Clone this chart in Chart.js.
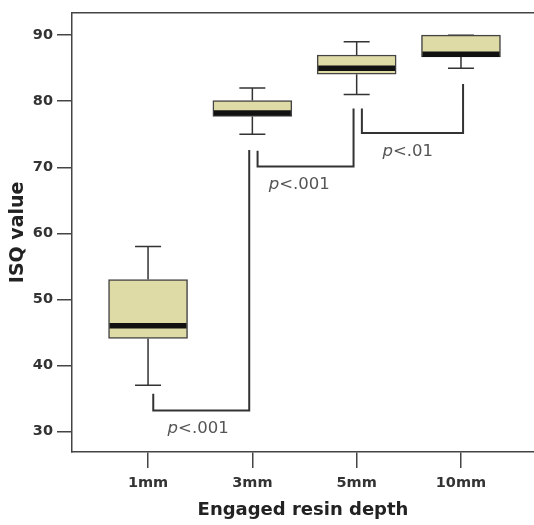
<!DOCTYPE html>
<html>
<head>
<meta charset="utf-8">
<script src="https://cdn.jsdelivr.net/npm/chart.js@4"></script>
<style>
  html, body { margin: 0; padding: 0; background: #fff; }
  #wrap { width: 534px; height: 525px; }
</style>
</head>
<body>
<div id="wrap"><canvas id="boxChart"></canvas></div>
<script>
const categories = ["1mm", "3mm", "5mm", "10mm"];
const whiskerLow = [37, 75, 81, 85];
const q1 = [44.1, 77.7, 84.1, 86.7];
const median = [46, 78.2, 85, 87.1];
const q3 = [53, 80.1, 87, 90];
const whiskerHigh = [58, 82, 89, 90];
const yTicks = [30, 40, 50, 60, 70, 80, 90];

// significance brackets (x in category index units, y in ISQ units)
const bracketFrom = [0.05, 1.05, 2.05];
const bracketTo = [0.97, 1.97, 3.02];
const bracketStartY = [35.7, 72.5, 78.9];
const bracketBaseY = [33.2, 70.1, 75.2];
const bracketEndY = [72.6, 78.9, 82.6];
const pLabels = ["<.001", "<.001", "<.01"];
const pLabelX = [0.48, 1.45, 2.49];
const pLabelY = [30.4, 67.3, 72.3];

const BOX_W = 79;
const CAP_W = 26;
const FONT = "'DejaVu Sans', Verdana, sans-serif";

const boxExtras = {
  id: "boxExtras",
  beforeDatasetsDraw(chart) {
    const { ctx, scales: { x, y } } = chart;
    ctx.save();
    ctx.strokeStyle = "#333";
    ctx.lineWidth = 1.5;
    categories.forEach((c, i) => {
      const px = x.getPixelForValue(i);
      ctx.beginPath();
      ctx.moveTo(px, y.getPixelForValue(whiskerHigh[i]));
      ctx.lineTo(px, y.getPixelForValue(q3[i]));
      ctx.moveTo(px, y.getPixelForValue(q1[i]));
      ctx.lineTo(px, y.getPixelForValue(whiskerLow[i]));
      ctx.moveTo(px - CAP_W / 2, y.getPixelForValue(whiskerHigh[i]));
      ctx.lineTo(px + CAP_W / 2, y.getPixelForValue(whiskerHigh[i]));
      ctx.moveTo(px - CAP_W / 2, y.getPixelForValue(whiskerLow[i]));
      ctx.lineTo(px + CAP_W / 2, y.getPixelForValue(whiskerLow[i]));
      ctx.stroke();
    });
    ctx.restore();
  },
  afterDatasetsDraw(chart) {
    const { ctx, chartArea, scales: { x, y } } = chart;
    ctx.save();
    // medians
    ctx.strokeStyle = "#111";
    ctx.lineWidth = 5.5;
    categories.forEach((c, i) => {
      const px = x.getPixelForValue(i);
      const py = y.getPixelForValue(median[i]);
      ctx.beginPath();
      ctx.moveTo(px - BOX_W / 2 + 1, py);
      ctx.lineTo(px + BOX_W / 2 - 1, py);
      ctx.stroke();
    });
    // top frame line
    ctx.strokeStyle = "#444";
    ctx.lineWidth = 1.5;
    ctx.beginPath();
    ctx.moveTo(chartArea.left, chartArea.top);
    ctx.lineTo(chartArea.right, chartArea.top);
    ctx.stroke();
    // brackets
    ctx.strokeStyle = "#333";
    ctx.lineWidth = 2;
    bracketFrom.forEach((f, i) => {
      const x0 = x.getPixelForValue(f);
      const x1 = x.getPixelForValue(bracketTo[i]);
      ctx.beginPath();
      ctx.moveTo(x0, y.getPixelForValue(bracketStartY[i]));
      ctx.lineTo(x0, y.getPixelForValue(bracketBaseY[i]));
      ctx.lineTo(x1, y.getPixelForValue(bracketBaseY[i]));
      ctx.lineTo(x1, y.getPixelForValue(bracketEndY[i]));
      ctx.stroke();
    });
    // p-value labels
    ctx.fillStyle = "#555";
    ctx.textBaseline = "middle";
    ctx.textAlign = "left";
    pLabels.forEach((t, i) => {
      ctx.font = "italic 16.5px " + FONT;
      const wp = ctx.measureText("p").width;
      ctx.font = "16.5px " + FONT;
      const wt = ctx.measureText(t).width;
      const cx = x.getPixelForValue(pLabelX[i]);
      const cy = y.getPixelForValue(pLabelY[i]);
      const start = cx - (wp + wt) / 2;
      ctx.font = "italic 16.5px " + FONT;
      ctx.fillText("p", start, cy);
      ctx.font = "16.5px " + FONT;
      ctx.fillText(t, start + wp, cy);
    });
    ctx.restore();
  }
};

new Chart(document.getElementById("boxChart"), {
  type: "bar",
  data: {
    datasets: [{
      data: categories.map((c, i) => ({ x: i, y: [q1[i], q3[i]] })),
      backgroundColor: "#dfdba6",
      borderColor: "#444",
      borderWidth: 1.5,
      borderSkipped: false,
      barThickness: BOX_W
    }]
  },
  options: {
    responsive: true,
    maintainAspectRatio: false,
    animation: false,
    layout: { padding: { top: 7, right: 0, bottom: 0, left: 0 } },
    plugins: { legend: { display: false }, tooltip: { enabled: false } },
    scales: {
      x: {
        type: "linear",
        offset: false,
        min: -0.729,
        max: 3.70,
        afterBuildTicks: (s) => { s.ticks = categories.map((c, i) => ({ value: i })); },
        afterFit: (s) => { s.height = 73; },
        ticks: {
          callback: (v) => categories[v],
          autoSkip: false,
          maxRotation: 0,
          color: "#333",
          padding: 7,
          font: { family: FONT, size: 14.5, weight: "bold" }
        },
        grid: { offset: false, drawOnChartArea: false, drawTicks: true, tickLength: 16, color: "#444", lineWidth: 1.5 },
        border: { display: true, color: "#444", width: 1.5 },
        title: {
          display: true,
          text: "Engaged resin depth",
          color: "#222",
          padding: { top: 0, bottom: 4 },
          font: { family: FONT, size: 18, weight: "bold" }
        }
      },
      y: {
        type: "linear",
        min: 26.9,
        max: 93.4,
        afterBuildTicks: (s) => { s.ticks = yTicks.map((v) => ({ value: v })); },
        afterFit: (s) => { s.width = 72; },
        ticks: {
          color: "#333",
          padding: 4,
          font: { family: FONT, size: 14.5, weight: "bold" }
        },
        grid: { drawOnChartArea: false, drawTicks: true, tickLength: 15, color: "#444", lineWidth: 1.5 },
        border: { display: true, color: "#444", width: 1.5 },
        title: {
          display: true,
          text: "ISQ value",
          color: "#222",
          padding: { top: 7, bottom: 0 },
          font: { family: FONT, size: 19, weight: "bold" }
        }
      }
    }
  },
  plugins: [boxExtras]
});
</script>
</body>
</html>
